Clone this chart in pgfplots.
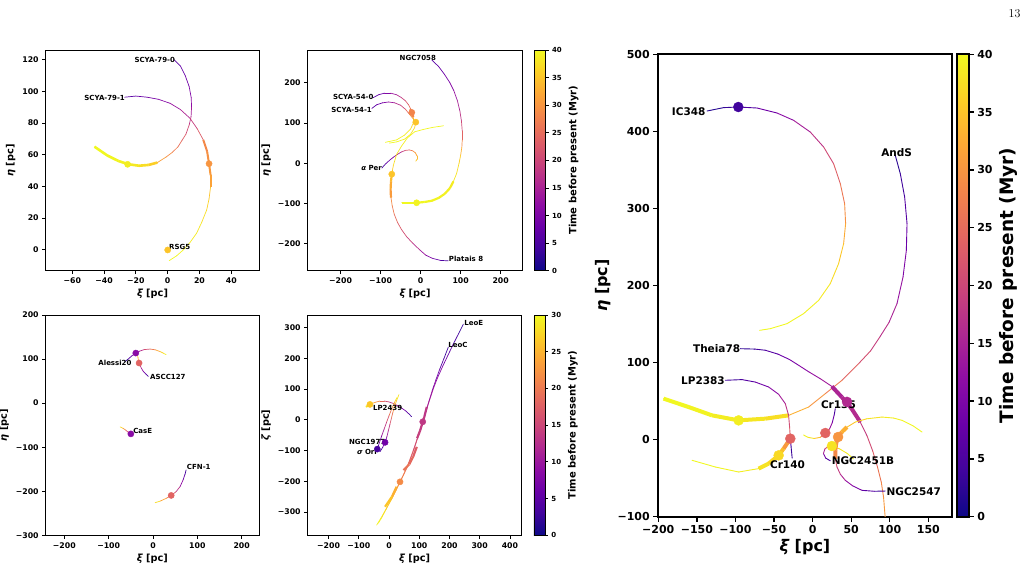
\documentclass[border=0pt]{standalone}
\usepackage{fontspec}
\setmainfont{DejaVu Sans}
\newfontfamily\lmfont{Latin Modern Roman}
\usepackage{pgfplots}
\pgfplotsset{compat=1.18}
\tikzset{
  lab/.style={font=\bfseries\fontsize{7}{8}\selectfont, inner sep=0.5pt},
  blab/.style={font=\bfseries\fontsize{10.5}{12}\selectfont, inner sep=0.5pt},
}
\pgfplotsset{
  /pgf/number format/assume math mode=true,
  colormap={plasma}{rgb255=(13,8,135) rgb255=(65,4,157) rgb255=(106,0,168) rgb255=(143,13,164) rgb255=(177,42,144) rgb255=(204,71,120) rgb255=(225,100,98) rgb255=(242,132,75) rgb255=(252,166,54) rgb255=(252,206,37) rgb255=(240,249,33)},
  small/.style={
    scale only axis, anchor=north west,
    axis line style={line width=0.9pt, black},
    tick align=outside, xtick pos=left, ytick pos=left,
    major tick length=3.5pt,
    every tick/.style={black, line width=0.8pt},
    tick label style={font=\bfseries\fontsize{7.8}{9}\selectfont},
    label style={font=\bfseries\fontsize{9.8}{11}\selectfont},
    xlabel={{\itshape ξ} [pc]},
    xlabel style={yshift=1pt},
  },
  smallcb/.style={
    colorbar style={at={(parent axis.north east)}, anchor=north west, xshift=3.7pt, width=11pt,
      axis line style={line width=0.8pt, black},
      tick align=outside, ytick pos=right, yticklabel pos=right, major tick length=3pt,
      every tick/.style={black, line width=0.8pt},
      tick label style={font=\bfseries\fontsize{7}{8}\selectfont},
      ylabel style={font=\bfseries\fontsize{10}{12}\selectfont},
      ylabel={Time before present (Myr)}},
  },
  traj/.style={mesh, point meta=explicit, line width=0.7pt, line cap=round},
  thk/.style={mesh, point meta=explicit, line width=2.6pt},
  dots/.style={scatter, only marks, mark=*, mark size=3.1pt, point meta=explicit,
    scatter/use mapped color={draw=mapped color, fill=mapped color}},
}
\begin{document}
\begin{tikzpicture}
\path[use as bounding box] (0,0) rectangle (1028pt,-567pt);
\node[font=\lmfont\fontsize{12}{14}\selectfont, anchor=east] at (1024pt,-14pt) {13};

% ---------------- Panel 1
\begin{axis}[small, at={(45.7pt,-50pt)}, width=213.6pt, height=220.7pt,
  xmin=-76.7, xmax=57.6, ymin=-13.3, ymax=126.1,
  point meta min=0, point meta max=40,
  xtick={-60,-40,-20,0,20,40}, xticklabels={−60,−40,−20,0,20,40},
  ytick={0,20,40,60,80,100,120}, yticklabels={0,20,40,60,80,100,120},
  ylabel={{\itshape η} [pc]}]
\addplot[traj] table[meta=t]{
x y t
4 120 6
8 116 7
11 110 8
13.5 103 9.5
14.8 96 11
15 90 13
14.7 84 16
13.6 79 19
11.5 73 22
9 69 24
6.5 65 26
3 61.5 28
-1 58.5 30
-6.5 55 32
-12 53.5 34
-18 53 36
-25 54 38
-31 56 39
-38 59.5 39.5
-46 65 40
};
\addplot[thk] table[meta=t]{
x y t
-6.5 55 35
-12 53.5 37
-18 53 38
-25 54 39
-31 56 39.5
-38 59.5 39.8
-46 65 40
};
\addplot[traj] table[meta=t]{
x y t
-27 96.3 6
-20 97 7
-13 96.3 8.5
-6 95 10
1.4 92.5 12
8 88.5 14
14 83 17
18.5 76.5 21
22.4 69.3 25
24.8 62 28
26 54.3 30
27 47 32
27 39.8 34
26 32 36
24.5 25 37
21.5 17.5 38
18.2 10.4 38.5
14 4.5 39
9.8 -0.2 39.5
5.5 -4 40
1 -6.9 40
};
\addplot[thk, line width=2pt] table[meta=t]{
x y t
22.4 69.3 28
24.8 62 29
26 54.3 30
27 47 31
27 39.8 32
};
\addplot[dots] table[meta=t]{
x y t
-25.2 53.9 39
26 54.3 30
0 -0.2 35
};
\node[lab, anchor=east] at (axis cs:5,120) {SCYA-79-0};
\node[lab, anchor=east] at (axis cs:-26.5,96) {SCYA-79-1};
\node[lab, anchor=west] at (axis cs:0.5,1.5) {RSG5};
\end{axis}

% ---------------- Panel 2
\begin{axis}[small, smallcb, at={(307.7pt,-50pt)}, width=214.6pt, height=220.7pt,
  xmin=-282, xmax=254, ymin=-266.5, ymax=281,
  point meta min=0, point meta max=40, colorbar,
  colorbar style={ytick={0,5,10,15,20,25,30,35,40}, yticklabels={0,5,10,15,20,25,30,35,40}},
  xtick={-200,-100,0,100,200}, xticklabels={−200,−100,0,100,200},
  ytick={-200,-100,0,100,200}, yticklabels={−200,−100,0,100,200},
  ylabel={{\itshape η} [pc]}]
\addplot[traj] table[meta=t]{
x y t
28 256 6
45 240 7
60 220 8.5
73 200 10
83 180 12
92 155 14
98 130 16
102 105 19
104 80 22
104 58 26
103 40 31
100 20 35
96 0 37
90 -25 38
82 -45 38.5
73 -62 39
60 -76 39.3
45 -86 39.5
28 -93 39.7
10 -96 39.8
-10 -98 39.9
-30 -98 40
-47 -98 40
};
\addplot[thk, line width=2.2pt] table[meta=t]{
x y t
82 -45 38.5
73 -62 39
60 -76 39.3
45 -86 39.5
28 -93 39.7
10 -96 39.8
-10 -98 39.9
-30 -98 40
-47 -98 40
};
\addplot[traj] table[meta=t]{
x y t
-118 163 6
-105 170 7
-90 174 9
-75 174 12
-60 170 15
-48 163 18
-38 155 21
-30 145 24
-25 135 26
-22 126 28
-18 112 33
-18 100 36
-25 85 38
-40 70 39
-60 58 39.7
-88 52 40
};
\addplot[traj] table[meta=t]{
x y t
-122 136 6
-110 145 7
-95 150 9
-80 152 12
-65 150 15
-50 144 18
-38 134 22
-28 122 27
-20 112 32
-12 102 35
-15 88 37
-25 72 38.5
-40 60 39.3
-60 53 39.8
-78 50 40
};
\addplot[thk, line width=2.2pt] table[meta=t]{
x y t
-26 134 28
-22 126 28
-18 115 29
};
\addplot[traj] table[meta=t]{
x y t
-97 -12 4
-88 -2 6
-78 7 8
-68 15 10
-58 22 13
-48 28 17
-38 32 21
-28 33 25
-20 31 28
-13 26 31
-9 18 33
-9 10 35
-12 5 36
};
\addplot[traj] table[meta=t]{
x y t
69 -242 4
50 -241 6
30 -236 9
13 -228 12
-2 -215 15
-20 -198 18
-35 -182 20
-48 -164 22
-58 -146 24
-66 -126 26
-71 -105 28
-74 -85 30
-75 -65 31.5
-74 -45 33.5
-72 -27 35
-68 -5 37
-60 22 38
-48 42 38.8
-33 63 39.3
-15 78 39.6
7 84 39.8
30 89 39.9
57 93 40
};
\addplot[thk, line width=2.2pt] table[meta=t]{
x y t
-74 -85 30
-75 -65 31.5
-74 -45 33.5
-72 -27 35
};
\addplot[dots] table[meta=t]{
x y t
-22 126 28
-12 102 35
-72 -27 35
-10 -98 39.5
};
\node[lab, anchor=east] at (axis cs:40,262) {NGC7058};
\node[lab, anchor=east] at (axis cs:-116,164) {SCYA-54-0};
\node[lab, anchor=east] at (axis cs:-120,132) {SCYA-54-1};
\node[lab, anchor=east] at (axis cs:-95,-11) {{\itshape α} Per};
\node[lab, anchor=west] at (axis cs:69,-237) {Platais 8};
\end{axis}

% ---------------- Panel 3
\begin{axis}[small, at={(45.7pt,-315pt)}, width=213.3pt, height=220.3pt,
  xmin=-242, xmax=239, ymin=-300, ymax=200,
  point meta min=0, point meta max=30,
  xtick={-200,-100,0,100,200}, xticklabels={−200,−100,0,100,200},
  ytick={-300,-200,-100,0,100,200}, yticklabels={−300,−200,−100,0,100,200},
  ylabel={{\itshape η} [pc]}]
\addplot[traj] table[meta=t]{
x y t
-63 94.5 1
-56 100 3
-48 107 6
-39 113.6 8.5
-30 118 11
-20 121.5 14
-6.5 122.7 18
5 121 22
16 117 26
24 113 28.5
29.6 110 30
};
\addplot[traj] table[meta=t]{
x y t
-10.4 60.5 2
-16 66 5
-22 72 8
-26 79 11
-29 85 14
-31.4 91 17
-33 98 22
-34 104 26
-35 110 30
};
\addplot[traj] table[meta=t]{
x y t
-46 -70 5
-50 -69.8 8.5
-56 -66 14
-62 -61 20
-68 -57 25
-74 -54 30
};
\addplot[traj] table[meta=t]{
x y t
74.7 -151.6 2
72 -162 4
68 -174 7
61 -189.5 11
52 -201 15
41 -209.5 18
30 -216 22
16 -222.5 26
4.7 -226 30
};
\addplot[dots] table[meta=t]{
x y t
-38.8 113.6 8.5
-31.4 91 18
-50 -69.8 8.5
41 -209.5 18
};
\node[lab, anchor=east] at (axis cs:-47,91) {Alessi20};
\node[lab, anchor=west] at (axis cs:-8,60) {ASCC127};
\node[lab, anchor=west] at (axis cs:-46,-64) {CasE};
\node[lab, anchor=west] at (axis cs:75,-145) {CFN-1};
\end{axis}

% ---------------- Panel 4
\begin{axis}[small, smallcb, at={(307.7pt,-315pt)}, width=214pt, height=220.3pt,
  xmin=-269, xmax=439, ymin=-376, ymax=341,
  point meta min=0, point meta max=30, colorbar,
  colorbar style={ytick={0,5,10,15,20,25,30}, yticklabels={0,5,10,15,20,25,30}},
  xtick={-200,-100,0,100,200,300,400}, xticklabels={−200,−100,0,100,200,300,400},
  ytick={-300,-200,-100,0,100,200,300}, yticklabels={−300,−200,−100,0,100,200,300},
  ylabel={{\itshape ζ} [pc]}]
\addplot[traj] table[meta=t]{
x y t
246 311 2
230 280 3
212 245 4.5
195 210 6
178 175 7.5
162 140 9
148 105 10.5
136 70 12
125 35 13
117 10 13.7
111.6 -6.5 14
103 -35 15
93 -65 16
83 -95 17
72 -125 18
60 -155 19.5
48 -180 21
36.4 -202 22
24 -228 24
10 -256 26
-5 -282 27.5
-22 -312 29
-41 -343 30
};
\addplot[traj] table[meta=t]{
x y t
196 236 2
182 200 3.5
168 165 5
155 130 7
143 95 8.5
132 60 10
121 25 11.5
112 -5 12.5
102 -35 13.5
92 -65 15
80 -100 16.5
67 -135 18
54 -165 19.5
40 -195 21
36 -202 21.5
22 -232 23.5
6 -262 25.5
-10 -292 27.5
-25 -320 29
-35 -336 30
};
\addplot[thk, line width=2.2pt] table[meta=t]{
x y t
125 42 13
117 10 13.5
103 -35 14
93 -60 14.5
};
\addplot[thk, line width=2.2pt] table[meta=t]{
x y t
92 -88 17
80 -120 18
67 -145 19
48 -164 20
};
\addplot[thk, line width=2.2pt] table[meta=t]{
x y t
25 -218 24
10 -250 25.5
-13 -283 27
};
\addplot[traj] table[meta=t]{
x y t
75 10 2
65 20 4
55 29 6
42 38 8
28 46 10
15 53 12
0 58 14
-15 61 17
-30 61 20
-45 57 23
-56 53 25
-63 50 26.5
-70 46 28
-76 42 30
};
\addplot[thk, line width=2pt] table[meta=t]{
x y t
-56 53 26
-63 50 27
-70 46 28
-76 42 29
};
\addplot[traj] table[meta=t]{
x y t
-30 -104 2
-21 -90 5
-13 -73.5 7
-7 -55 9
-2 -35 12
3 -15 15
8 5 18
13 25 21
19 45 24
26 65 27
33 82 30
};
\addplot[traj] table[meta=t]{
x y t
-42 -103 1
-38.7 -95.4 3.5
-32 -75 6
-24 -52 9
-16 -30 12
-8 -8 15
0 13 18
8 33 21
15 50 24
21 62 27
26 72 30
};
\addplot[dots] table[meta=t]{
x y t
111.6 -6.5 13.5
36.4 -202 21.6
-63 50 26.5
-13 -73.5 6.5
-38.7 -95.4 3.5
};
\node[lab, anchor=west] at (axis cs:247,316) {LeoE};
\node[lab, anchor=west] at (axis cs:194,243) {LeoC};
\node[lab, anchor=west] at (axis cs:-55,37) {LP2439};
\node[lab, anchor=east] at (axis cs:-10,-73.5) {NGC1977};
\node[lab, anchor=east] at (axis cs:-38,-104) {{\itshape σ} Ori};
\end{axis}

% ---------------- Panel 5
\begin{axis}[small, at={(658.3pt,-54.3pt)}, width=293.4pt, height=462.4pt,
  xmin=-200, xmax=180.3, ymin=-100, ymax=500,
  axis line style={line width=2pt, black},
  major tick length=5pt, every tick/.style={black, line width=1.3pt},
  tick label style={font=\bfseries\fontsize{11}{13}\selectfont},
  label style={font=\bfseries\fontsize{16}{18}\selectfont},
  point meta min=0, point meta max=40, colorbar,
  colorbar style={at={(parent axis.north east)}, anchor=north west, xshift=-3.5pt, width=12pt,
      axis line style={line width=2pt, black},
      tick align=outside, ytick pos=right, yticklabel pos=right, major tick length=5pt,
      every tick/.style={black, line width=1.3pt},
      tick label style={font=\bfseries\fontsize{11}{13}\selectfont},
      ylabel style={font=\bfseries\fontsize{18.5}{20}\selectfont},
      ytick={0,5,10,15,20,25,30,35,40}, yticklabels={0,5,10,15,20,25,30,35,40},
      ylabel={Time before present (Myr)}},
  xtick={-200,-150,-100,-50,0,50,100,150}, xticklabels={−200,−150,−100,−50,0,50,100,150},
  ytick={-100,0,100,200,300,400,500}, yticklabels={−100,0,100,200,300,400,500},
  ylabel={{\itshape η} [pc]}]
\addplot[traj, line width=0.9pt] table[meta=t]{
x y t
-136.9 426.4 1
-115.4 430.8 2.5
-96.3 431.6 4
-72.1 430.3 7
-46.1 423.8 10
-24.6 414.3 13
-3 399.1 16
14.3 379.7 19
27.2 358.1 22
35.9 332.2 25
41.5 306.2 28
42.8 280.3 31
40.2 254.3 34
33.7 228.4 36.5
22.9 202.4 38
7.8 180.7 39
-11.7 163.5 39.5
-33.2 150.5 39.8
-54.8 144 40
-68.7 141.8 40
};
\addplot[traj, line width=0.9pt] table[meta=t]{
x y t
107.2 368.7 1.5
113.7 345 3
119.3 314.8 5
122.4 280.3 7
121.5 245.6 9
117.2 211 11.5
109.4 176.5 14
99 152 16
87 133 18
75 115 20
59.6 98.6 22.5
38.1 77 25.5
16.5 59.7 28.5
-5.2 42.3 31.5
-31.1 31.5 34.5
-61.3 27.2 37
-95.9 25 38.5
-130.4 31.5 39.3
-160.7 42.3 39.7
-193.2 53.2 40
};
\addplot[thk, line width=4pt] table[meta=t]{
x y t
-31.1 31.5 37
-61.3 27.2 38
-95.9 25 38.5
-130.4 31.5 39.3
-160.7 42.3 39.7
-193.2 53.2 40
};
\addplot[traj, line width=0.9pt] table[meta=t]{
x y t
-93.7 118 2
-75 117.5 3.5
-61.3 116 5
-45 111 7
-30 104 9
-18 96.4 10.5
-5 88 12
10 79 13.5
25 69 14.5
38 55 15.5
50 41 16.5
61.8 22.8 17.5
70.5 5 19.5
78 -15 22
84 -35 25
89 -55 27.5
92 -75 29.5
94 -100 31.5
};
\addplot[thk, line width=4pt] table[meta=t]{
x y t
25 69 15
38 55 15.5
50 41 16
61.8 22.8 16.5
};
\addplot[traj, line width=0.9pt] table[meta=t]{
x y t
-113.2 77 3
-91.5 77.9 5
-74.3 74.7 7
-57 68.3 10
-44 58.8 13
-35.4 46.7 16
-31.1 31.5 19
-29.8 16.3 22
-28.9 1.3 24
-37.6 -11.7 31
-44 -20.4 36
-57 -31.1 37.5
-70 -37.6 38.5
-95.9 -42 39.3
-126.1 -35.5 39.8
-156.3 -26.8 40
};
\addplot[thk, line width=4pt] table[meta=t]{
x y t
-28.9 1.3 28
-37.6 -11.7 33
-44 -20.4 36
-57 -31.1 37.5
-70 -37.6 38.5
};
\addplot[traj, line width=0.9pt] table[meta=t]{
x y t
-26.5 -24 2
-28 -8 5
-28.9 1.3 8
};
\addplot[traj, line width=0.9pt] table[meta=t]{
x y t
29.4 40.2 3
28 32 6
25.5 22 10
22 14 15
16.5 8.6 24
10 3 32
2 1.5 37
-6 3 39
-11.7 6 40
};
\addplot[traj, line width=0.9pt] table[meta=t]{
x y t
23 -27.5 3
17 -24 7
14 -18 12
16 -12 18
20 -9 26
25 -8.3 36
35 -12 38
45 -18 39
53 -25 40
};
\addplot[traj, line width=0.9pt] table[meta=t]{
x y t
94 -66.7 3
80 -67 5
64 -65.8 8
52 -60 11
42.4 -52.8 14
36 -45 17
31.6 -35.5 20
29.5 -25 23
29.4 -14 26
30.5 -5 28.5
33 3.4 30
38 10 32
44.6 16.3 34
55.4 22.8 36
70 27 37.5
90 29.3 38.5
105 28 39.2
116 25 39.6
130 18 39.8
141.8 9.9 40
};
\addplot[thk, line width=4pt] table[meta=t]{
x y t
29.5 -25 28
29.4 -14 29
30.5 -5 30
33 3.4 31
38 10 32
44.6 16.3 34
};
\addplot[dots, mark size=5pt] table[meta=t]{
x y t
-96.3 431.6 4
-95.9 25 39
44.6 49 16
-28.9 1.3 24
-44 -20.4 37
16.5 8.6 24
33 3.4 30
25 -8.3 38
};
\node[blab, anchor=east] at (axis cs:-138,426) {IC348};
\node[blab] at (axis cs:109,373) {AndS};
\node[blab, anchor=east] at (axis cs:-93,118) {Theia78};
\node[blab, anchor=east] at (axis cs:-113,77) {LP2383};
\node[blab, anchor=west] at (axis cs:10,45) {Cr135};
\node[blab, anchor=west] at (axis cs:-56,-32) {Cr140};
\node[blab, anchor=west] at (axis cs:24,-27) {NGC2451B};
\node[blab, anchor=west] at (axis cs:95,-67) {NGC2547};
\end{axis}
\end{tikzpicture}
\end{document}
